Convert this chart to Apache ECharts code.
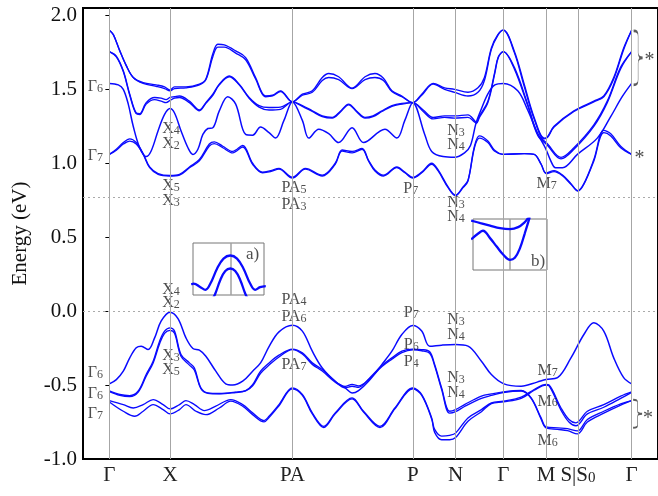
<!DOCTYPE html>
<html><head><meta charset="utf-8">
<script src="https://cdn.jsdelivr.net/npm/echarts@6/dist/echarts.min.js"></script>
<style>html,body{margin:0;padding:0;background:#fff}#c{width:658px;height:496px}</style>
</head><body><div id="c"></div>
<script>
// ---- k-path (distance along path) ----
const kPoints = [0, 61, 184, 305, 348, 396, 439, 471, 525];
const kLabels = ['Γ', 'X', 'PA', 'P', 'N', 'Γ', 'M', 'S|S_0', 'Γ'];
const yTicks = [-1.0, -0.5, 0.0, 0.5, 1.0, 1.5, 2.0];
const refEnergies = [0, 0.77];

// ---- conduction bands [k, E(eV)] ----
const C1 = [[0,1.90],[4,1.87],[10.5,1.76],[17,1.66],[24,1.58],[34,1.545],[47,1.53],[55.5,1.517],[61,1.495],[65.5,1.517],[77,1.517],[90.5,1.535],[97,1.57],[104,1.74],[109,1.805],[115.5,1.80],[127,1.76],[137,1.715],[147,1.58],[157,1.455],[164,1.46],[172,1.49],[184,1.415],[194,1.467],[204,1.49],[214,1.58],[220.5,1.607],[230.5,1.585],[244,1.508],[257,1.585],[267,1.607],[275.5,1.575],[284,1.49],[294,1.455],[305,1.41],[314,1.467],[325.5,1.54],[337,1.51],[347,1.50],[360.5,1.48],[370.5,1.51],[377,1.58],[384,1.78],[390.5,1.87],[396,1.90],[407,1.76],[417,1.535],[427,1.31],[437,1.17],[440.5,1.18],[447,1.25],[467,1.355],[487,1.42],[497,1.455],[507,1.58],[517,1.78],[525,1.90]];
const C1b = [[0,1.90],[4,1.87],[10.5,1.76],[17,1.66],[24,1.58],[34,1.54],[47,1.52],[55.5,1.505],[61,1.49],[65.5,1.505],[77,1.51],[90.5,1.53],[97,1.565],[104,1.72],[109,1.785],[115.5,1.785],[127,1.745],[137,1.70],[147,1.57],[157,1.45],[164,1.455],[172,1.485],[184,1.415],[194,1.46],[204,1.48],[214,1.56],[220.5,1.58],[230.5,1.565],[244,1.505],[257,1.565],[267,1.58],[275.5,1.56],[284,1.485],[294,1.45],[305,1.41],[314,1.46],[325.5,1.535],[337,1.50],[347,1.48],[360.5,1.455],[370.5,1.48],[377,1.56],[384,1.77],[390.5,1.865],[396,1.90],[407,1.75],[417,1.52],[427,1.30],[437,1.165],[440.5,1.175],[447,1.245],[467,1.35],[487,1.415],[497,1.45],[507,1.57],[517,1.77],[525,1.90]];
const C2 = [[0,1.755],[7,1.725],[14,1.625],[20.5,1.467],[27,1.34],[30.5,1.335],[37,1.41],[45.5,1.445],[52,1.44],[57,1.43],[61,1.445],[65.5,1.45],[70.5,1.455],[80.5,1.42],[90.5,1.36],[97,1.41],[104,1.467],[110.5,1.535],[120.5,1.59],[130.5,1.535],[140.5,1.445],[150.5,1.39],[160.5,1.377],[172,1.38],[184,1.415],[194,1.39],[204,1.355],[214,1.32],[224,1.31],[232,1.35],[240.5,1.40],[249,1.35],[257,1.31],[265,1.32],[274,1.355],[284,1.39],[294,1.405],[305,1.41],[315.5,1.36],[325.5,1.31],[337,1.32],[347,1.32],[360.5,1.327],[367,1.29],[369,1.275],[372,1.32],[380.5,1.42],[387.5,1.62],[391,1.72],[396,1.755],[407,1.65],[420.5,1.40],[430.5,1.20],[440.5,1.13],[454,1.04],[467,1.105],[487,1.26],[500.5,1.42],[514,1.65],[525,1.755]];
const C2b = [[0,1.755],[7,1.72],[14,1.62],[20.5,1.46],[27,1.335],[30.5,1.33],[37,1.40],[45.5,1.43],[52,1.42],[57,1.41],[61,1.425],[65.5,1.44],[70.5,1.445],[80.5,1.41],[90.5,1.355],[97,1.405],[104,1.46],[110.5,1.53],[120.5,1.585],[130.5,1.53],[140.5,1.44],[150.5,1.38],[160.5,1.36],[172,1.365],[184,1.415],[194,1.385],[204,1.35],[214,1.315],[224,1.305],[232,1.345],[240.5,1.395],[249,1.345],[257,1.305],[265,1.315],[274,1.35],[284,1.385],[294,1.40],[305,1.41],[315.5,1.35],[325.5,1.30],[337,1.31],[347,1.305],[360.5,1.31],[367,1.28],[369,1.27],[372,1.31],[380.5,1.41],[387.5,1.61],[391,1.715],[396,1.755],[407,1.64],[420.5,1.39],[430.5,1.19],[440.5,1.12],[454,1.03],[467,1.095],[487,1.25],[500.5,1.41],[514,1.64],[525,1.755]];
const C3 = [[0,1.54],[9,1.53],[14,1.50],[19,1.40],[24,1.25],[30.5,1.105],[37,1.045],[42,1.083],[49,1.22],[55.5,1.33],[61,1.37],[65.5,1.34],[72,1.22],[79,1.105],[84,1.06],[89,1.095],[94,1.195],[99,1.235],[104,1.24],[110.5,1.354],[119,1.45],[127,1.40],[137,1.195],[144,1.19],[152,1.245],[160.5,1.207],[167,1.17],[175.5,1.29],[184,1.415],[194,1.29],[200.5,1.17],[210.5,1.23],[220.5,1.20],[230.5,1.14],[244,1.24],[255.5,1.14],[277,1.23],[289,1.17],[297,1.29],[305,1.41],[317,1.195],[324,1.08],[335.5,1.045],[347,1.04],[357,1.07],[363,1.12],[368.5,1.27],[373.5,1.36],[380.5,1.47],[387.5,1.53],[396,1.54],[410.5,1.49],[420.5,1.36],[430.5,1.20],[438.5,1.10],[443.5,1.02],[448.5,0.97],[455.5,0.97],[470.5,1.06],[490.5,1.17],[503.5,1.31],[515.5,1.45],[525,1.54]];
const C4 = [[0,1.06],[7,1.088],[14,1.13],[20.5,1.15],[27,1.13],[34,1.06],[40.5,0.97],[49,0.925],[61,0.914],[70.5,0.92],[80.5,0.97],[90.5,1.016],[100.5,1.117],[105.5,1.133],[114,1.105],[124,1.07],[134,1.11],[144,0.993],[154,0.936],[162,0.943],[170.5,0.96],[184,0.90],[197,0.96],[214,0.914],[227,0.993],[234,1.083],[244,1.07],[254,1.095],[260.5,1.016],[267,0.948],[275.5,0.914],[289,0.97],[297,0.936],[305,0.90],[314,0.936],[324,0.993],[330.5,0.948],[340.5,0.835],[348,0.78],[355.5,0.835],[360.5,0.88],[367,1.105],[372,1.17],[380.5,1.14],[387,1.083],[396,1.06],[417,1.065],[427,1.06],[434,0.993],[439,0.93],[447,0.943],[455.5,0.915],[464,0.858],[471,0.812],[477,0.858],[487,1.016],[497,1.207],[504,1.185],[514,1.105],[525,1.06]];
const C4b = [[0,1.06],[7,1.095],[14,1.14],[20.5,1.165],[27,1.14],[34,1.065],[40.5,0.975],[49,0.93],[61,0.917],[70.5,0.925],[80.5,0.975],[90.5,1.025],[100.5,1.13],[105.5,1.145],[114,1.115],[124,1.08],[134,1.12],[144,1.0],[154,0.94],[162,0.95],[170.5,0.965],[184,0.905],[197,0.965],[214,0.92],[227,1.0],[234,1.09],[244,1.08],[254,1.10],[260.5,1.02],[267,0.955],[275.5,0.92],[289,0.975],[297,0.94],[305,0.905],[314,0.94],[324,1.0],[330.5,0.955],[340.5,0.84],[348,0.785],[355.5,0.84],[360.5,0.885],[367,1.115],[372,1.185],[380.5,1.15],[387,1.09],[396,1.06],[417,1.065],[427,1.06],[434,0.995],[439,0.935],[447,0.95],[455.5,0.92],[464,0.862],[471,0.815],[477,0.862],[487,1.025],[497,1.222],[504,1.20],[514,1.115],[525,1.06]];

// ---- valence bands [k, E(eV)] ----
const V1 = [[0,-0.492],[7,-0.463],[14,-0.406],[20.5,-0.316],[27,-0.248],[32,-0.237],[39,-0.26],[45.5,-0.181],[52,-0.068],[61,-0.007],[69,-0.05],[77,-0.181],[84,-0.253],[90.5,-0.264],[97,-0.305],[107,-0.406],[117,-0.492],[124,-0.50],[134,-0.474],[144,-0.406],[152,-0.35],[160.5,-0.24],[170.5,-0.14],[184,-0.095],[194,-0.135],[204,-0.271],[214,-0.384],[227,-0.474],[237,-0.519],[244,-0.553],[250.5,-0.537],[260.5,-0.474],[274,-0.36],[284,-0.271],[294,-0.158],[305,-0.097],[314,-0.135],[322,-0.237],[334,-0.23],[348,-0.226],[360.5,-0.237],[374,-0.339],[384,-0.429],[396,-0.49],[414,-0.508],[430,-0.48],[439,-0.463],[450.5,-0.45],[464,-0.316],[477,-0.158],[487,-0.079],[497,-0.135],[507,-0.316],[517,-0.45],[525,-0.492]];
const V2 = [[0,-0.54],[10.5,-0.564],[20.5,-0.571],[29,-0.54],[37,-0.429],[44,-0.339],[50.5,-0.203],[55.5,-0.135],[61,-0.113],[65.5,-0.135],[72,-0.293],[80.5,-0.35],[85.5,-0.384],[92,-0.519],[99,-0.553],[110.5,-0.557],[127,-0.548],[137,-0.537],[144,-0.498],[152,-0.406],[160.5,-0.35],[170.5,-0.298],[184,-0.257],[194,-0.282],[204,-0.35],[214,-0.395],[227,-0.474],[237,-0.519],[244,-0.508],[250.5,-0.515],[260.5,-0.46],[274,-0.368],[284,-0.316],[294,-0.27],[305,-0.257],[314,-0.26],[322,-0.275],[327,-0.361],[334,-0.519],[342,-0.677],[348,-0.666],[357,-0.632],[374,-0.575],[384,-0.56],[396,-0.546],[414,-0.537],[424,-0.587],[434,-0.722],[439,-0.783],[450.5,-0.79],[460.5,-0.795],[470.5,-0.81],[480.5,-0.733],[497,-0.677],[514,-0.627],[525,-0.605]];
const V2b = [[0,-0.545],[10.5,-0.57],[20.5,-0.578],[29,-0.548],[37,-0.44],[44,-0.35],[50.5,-0.22],[55.5,-0.15],[61,-0.13],[65.5,-0.15],[72,-0.305],[80.5,-0.365],[85.5,-0.40],[92,-0.525],[99,-0.556],[110.5,-0.56],[127,-0.55],[137,-0.54],[144,-0.505],[152,-0.42],[160.5,-0.365],[170.5,-0.31],[184,-0.26],[194,-0.29],[204,-0.36],[214,-0.405],[227,-0.48],[237,-0.51],[244,-0.495],[250.5,-0.505],[260.5,-0.465],[274,-0.375],[284,-0.325],[294,-0.28],[305,-0.262],[314,-0.268],[322,-0.285],[327,-0.37],[334,-0.53],[342,-0.69],[348,-0.68],[357,-0.645],[374,-0.59],[384,-0.57],[396,-0.55],[414,-0.54],[424,-0.59],[434,-0.73],[439,-0.79],[450.5,-0.80],[460.5,-0.808],[470.5,-0.83],[480.5,-0.75],[497,-0.69],[514,-0.635],[525,-0.605]];
const V3 = [[0,-0.605],[14,-0.632],[24,-0.655],[34,-0.632],[44,-0.598],[54,-0.632],[61,-0.661],[70.5,-0.632],[77,-0.605],[85.5,-0.632],[95.5,-0.673],[107,-0.643],[122,-0.598],[134,-0.632],[144,-0.688],[155.5,-0.74],[160.5,-0.711],[170.5,-0.632],[184,-0.519],[194,-0.564],[204,-0.688],[215.5,-0.779],[227,-0.688],[244,-0.587],[255.5,-0.677],[272,-0.779],[287,-0.655],[305,-0.519],[314,-0.564],[324,-0.722],[327,-0.80],[334,-0.845],[342,-0.84],[348,-0.825],[360.5,-0.722],[374,-0.666],[384,-0.62],[396,-0.609],[414,-0.582],[427,-0.53],[439,-0.496],[442,-0.50],[454,-0.655],[462,-0.733],[469,-0.756],[480.5,-0.677],[497,-0.632],[514,-0.575],[525,-0.546]];
const V4 = [[0,-0.614],[14,-0.677],[25.5,-0.711],[34,-0.677],[44,-0.632],[54,-0.666],[61,-0.695],[70.5,-0.666],[77,-0.632],[87,-0.677],[97,-0.70],[110.5,-0.655],[122,-0.609],[134,-0.643],[144,-0.70],[155.5,-0.749],[160.5,-0.72],[170.5,-0.64],[184,-0.525],[194,-0.57],[204,-0.695],[215.5,-0.787],[227,-0.695],[244,-0.593],[255.5,-0.683],[272,-0.787],[287,-0.66],[305,-0.525],[314,-0.57],[324,-0.73],[327,-0.82],[334,-0.87],[342,-0.87],[348,-0.855],[360.5,-0.745],[374,-0.68],[384,-0.625],[396,-0.614],[414,-0.59],[427,-0.535],[439,-0.50],[442,-0.505],[454,-0.67],[462,-0.75],[469,-0.775],[480.5,-0.695],[497,-0.65],[514,-0.59],[525,-0.55]];

// ---- irreducible-representation labels [k, E, text] ----
const bandLabels = [
  [-14, 1.517, 'Γ_6'], [-14, 1.05, 'Γ_7'],
  [62, 1.23, 'X_4'], [62, 1.133, 'X_2'], [62, 0.846, 'X_5'], [62, 0.745, 'X_3'],
  [185.5, 0.835, 'PA_5'], [185.5, 0.718, 'PA_3'],
  [303, 0.825, 'P_7'],
  [348.5, 1.22, 'N_3'], [348.5, 1.124, 'N_4'], [348.5, 0.735, 'N_3'], [348.5, 0.64, 'N_4'],
  [439.5, 0.86, 'M_7'],
  [62, 0.147, 'X_4'], [62, 0.056, 'X_2'], [62, -0.305, 'X_3'], [62, -0.40, 'X_5'],
  [-14, -0.418, 'Γ_6'], [-14, -0.56, 'Γ_6'], [-14, -0.695, 'Γ_7'],
  [185.5, 0.079, 'PA_4'], [185.5, -0.04, 'PA_6'], [185.5, -0.36, 'PA_7'],
  [303.5, -0.011, 'P_7'], [303.5, -0.225, 'P_6'], [303.5, -0.343, 'P_4'],
  [348.5, -0.056, 'N_3'], [348.5, -0.158, 'N_4'], [348.5, -0.45, 'N_3'], [348.5, -0.553, 'N_4'],
  [440.5, -0.406, 'M_7'], [440.5, -0.61, 'M_6'], [440.5, -0.875, 'M_6']
];
const starLabels = [[533, 1.03], [543, 1.69], [541.5, -0.73]];
const braceMarks = [[531.5, 1.713], [531, -0.694]];

// ---- insets (zoomed band extrema) ----
const insetA_upper = [[-1.1,0.2],[-1.03,0.22],[-0.84,0.15],[-0.70,0.10],[-0.56,0.22],[-0.37,0.51],[-0.19,0.70],[0,0.76],[0.19,0.70],[0.37,0.51],[0.56,0.22],[0.70,0.10],[0.84,0.15],[1.0,0.17]];
const insetA_lower = [[-0.52,-0.1],[-0.42,0.03],[-0.28,0.29],[-0.14,0.46],[0,0.51],[0.14,0.46],[0.28,0.29],[0.42,0.03],[0.52,-0.1]];
const insetB_upper = [[-1.05,0.97],[-0.80,0.92],[-0.54,0.87],[-0.27,0.82],[0,0.80],[0.22,0.84],[0.40,0.94],[0.49,1.02],[0.55,1.1]];
const insetB_lower = [[-1.05,0.60],[-0.85,0.72],[-0.73,0.77],[-0.54,0.625],[-0.36,0.46],[-0.18,0.30],[0,0.20],[0.13,0.24],[0.27,0.43],[0.40,0.72],[0.54,1.05],[0.58,1.15]];
const insetTags = [['a)', 0.63, 0.78], ['b)', 0.76, 0.16]];

// ---------------------------------------------------------------
const BLUE = '#0a0aff';
const SERIF = "'Liberation Serif', 'DejaVu Serif', serif";
const rich = (ms, ss) => ({
  m: {fontFamily: SERIF, fontSize: ms, color: '#222', lineHeight: ms},
  s: {fontFamily: SERIF, fontSize: ss, color: '#222', lineHeight: 6, verticalAlign: 'bottom'}
});
function sub(t) {
  const i = t.indexOf('_');
  if (i < 0) return '{m|' + t + '}';
  return '{m|' + t.slice(0, i) + '}{s|' + t.slice(i + 1) + '}';
}
function band(data, w) {
  return {type: 'line', data, xAxisIndex: 0, yAxisIndex: 0, symbol: 'none', showSymbol: false,
    smooth: 0.35, lineStyle: {color: BLUE, width: w || 1.35}, silent: true, z: 3};
}
function insetLine(data, idx) {
  return {type: 'line', data, xAxisIndex: idx, yAxisIndex: idx, symbol: 'none', showSymbol: false,
    smooth: 0.4, lineStyle: {color: BLUE, width: 2.3}, silent: true, z: 7, clip: true};
}

const chart = echarts.init(document.getElementById('c'), null, {renderer: 'canvas'});
const series = [
  {type: 'line', data: [], xAxisIndex: 0, yAxisIndex: 0, z: 1, silent: true,
   markLine: {silent: true, symbol: 'none', animation: false, label: {show: false},
     lineStyle: {color: '#a6a6a6', width: 1, type: 'solid'},
     data: kPoints.map(k => ({xAxis: k}))}},
  {type: 'line', data: [], xAxisIndex: 0, yAxisIndex: 0, z: 1, silent: true,
   markLine: {silent: true, symbol: 'none', animation: false, label: {show: false},
     lineStyle: {color: '#aaaaaa', width: 1, type: [2, 3]},
     data: refEnergies.map(e => ({yAxis: e}))}},
  band(C1), band(C1b), band(C2), band(C2b), band(C3, 1.5), band(C4), band(C4b),
  band(V1, 1.5), band(V2), band(V2b), band(V3), band(V4),
  {type: 'scatter', xAxisIndex: 0, yAxisIndex: 0, symbolSize: 0, silent: true, z: 4,
   data: bandLabels.map(d => ({value: [d[0], d[1]], txt: d[2]})),
   label: {show: true, position: 'inside', formatter: p => sub(p.data.txt), rich: rich(16, 12)}},
  {type: 'scatter', xAxisIndex: 0, yAxisIndex: 0, symbolSize: 0, silent: true, z: 4,
   data: starLabels.map(d => ({value: d})),
   label: {show: true, position: 'inside', formatter: '*', fontFamily: SERIF, fontSize: 20, color: '#222'}},
  {type: 'scatter', xAxisIndex: 0, yAxisIndex: 0, silent: true, z: 4,
   symbol: 'path://M0,0 C5,0 6,3 6,10 L6,40 C6,47 8,50 12,50 C8,50 6,53 6,60 L6,90 C6,97 5,100 0,100',
   data: braceMarks.map((d, i) => ({value: d, symbolSize: i === 0 ? [9, 54] : [9, 28]})),
   itemStyle: {color: 'rgba(0,0,0,0)', borderColor: '#333', borderWidth: 1.1}},
  Object.assign(insetLine(insetA_upper, 1), {
    markLine: {silent: true, symbol: 'none', animation: false, label: {show: false},
      lineStyle: {color: '#a0a0a0', width: 1.5, type: 'solid'}, data: [{xAxis: 0}]}}),
  insetLine(insetA_lower, 1),
  Object.assign(insetLine(insetB_upper, 2), {
    markLine: {silent: true, symbol: 'none', animation: false, label: {show: false},
      lineStyle: {color: '#a0a0a0', width: 1.5, type: 'solid'}, data: [{xAxis: 0}]}}),
  insetLine(insetB_lower, 2),
  {type: 'scatter', xAxisIndex: 1, yAxisIndex: 1, symbolSize: 0, silent: true, z: 8,
   data: [{value: [insetTags[0][1], insetTags[0][2]], txt: insetTags[0][0]}],
   label: {show: true, position: 'inside', formatter: p => p.data.txt, fontFamily: SERIF, fontSize: 17, color: '#222'}},
  {type: 'scatter', xAxisIndex: 2, yAxisIndex: 2, symbolSize: 0, silent: true, z: 8,
   data: [{value: [insetTags[1][1], insetTags[1][2]], txt: insetTags[1][0]}],
   label: {show: true, position: 'inside', formatter: p => p.data.txt, fontFamily: SERIF, fontSize: 17, color: '#222'}}
];

const labelFor = v => {
  const i = kPoints.findIndex(k => Math.abs(k - v) < 1e-6);
  return i < 0 ? '' : sub(kLabels[i]);
};

chart.setOption({
  animation: false,
  backgroundColor: '#fff',
  grid: [
    {left: 83, top: 8, width: 578, height: 451, show: true, borderColor: '#000', borderWidth: 2, z: 0},
    {left: 193, top: 243, width: 71, height: 52, show: true, borderColor: '#777', borderWidth: 1, backgroundColor: '#fff', z: 5},
    {left: 473, top: 219, width: 74, height: 51, show: true, borderColor: '#777', borderWidth: 1, backgroundColor: '#fff', z: 5}
  ],
  xAxis: [
    {gridIndex: 0, type: 'value', min: -26.5, max: 551.5,
     axisLine: {show: false}, splitLine: {show: false},
     axisTick: {show: true, customValues: kPoints, length: 4, lineStyle: {color: '#000', width: 1}},
     axisLabel: {show: true, customValues: kPoints, margin: 6, formatter: labelFor, rich: rich(21, 15)}},
    {gridIndex: 1, type: 'value', min: -1.05, max: 0.95, show: false},
    {gridIndex: 2, type: 'value', min: -1, max: 1, show: false}
  ],
  yAxis: [
    {gridIndex: 0, type: 'value', min: -1.0, max: 2.05,
     name: 'Energy (eV)', nameLocation: 'middle', nameGap: 52,
     nameTextStyle: {fontFamily: SERIF, fontSize: 21, color: '#111'},
     axisLine: {show: false}, splitLine: {show: false},
     axisTick: {show: true, customValues: yTicks, length: 4, lineStyle: {color: '#000', width: 1}},
     axisLabel: {show: true, customValues: yTicks, margin: 6, fontFamily: SERIF, fontSize: 21, color: '#111',
       formatter: v => v.toFixed(1)}},
    {gridIndex: 1, type: 'value', min: 0, max: 1, show: false},
    {gridIndex: 2, type: 'value', min: 0, max: 1, show: false}
  ],
  series
});
</script></body></html>
